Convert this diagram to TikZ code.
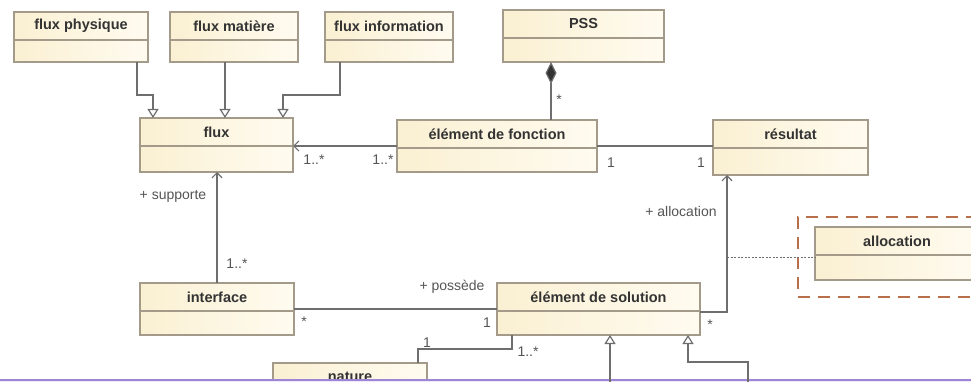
\documentclass[tikz,border=0pt]{standalone}
\usepackage{fontspec}
\setmainfont{Liberation Sans}
\usetikzlibrary{arrows.meta,calc}
\definecolor{boxL}{HTML}{FAF0D2}
\definecolor{boxR}{HTML}{FFFBF0}
\definecolor{boxB}{HTML}{A39A8A}
\definecolor{lineC}{HTML}{6E6E6E}
\definecolor{dashC}{HTML}{B8704C}
\definecolor{txtC}{HTML}{333333}
\definecolor{lblC}{HTML}{555555}
\definecolor{purp}{HTML}{9E86D6}
\definecolor{lav}{HTML}{EEE8F8}
\tikzset{
  classbox/.style={draw=boxB, line width=1.2pt, left color=boxL, right color=boxR, inner sep=0pt, outer sep=0pt},
  titletext/.style={font=\bfseries\fontsize{14.5}{16}\selectfont, text=txtC, inner sep=0pt},
  lbl/.style={font=\fontsize{14}{16}\selectfont, text=lblC, inner sep=1pt},
  gen/.style={draw=lineC, line width=1.2pt, -{Triangle[open, length=9, width=11, fill=white]}},
  nav/.style={draw=lineC, line width=1.2pt, -{Straight Barb[length=5, width=10]}},
  assoc/.style={draw=lineC, line width=1.2pt},
  assocdash/.style={draw=lineC, line width=0.8pt, dash pattern=on 2pt off 1.5pt},
  dashbox/.style={draw=dashC, line width=2.6pt, dash pattern=on 12pt off 8pt, inner sep=0pt, outer sep=0pt},
}
\newcommand\umlclass[6]{%
  \node[classbox, minimum width=#4-#2, minimum height=#5-#3, anchor=north west] (#1) at (#2,#3) {};
  \draw[boxB, line width=1.2pt] ([yshift=-28]#1.north west) -- ([yshift=-28]#1.north east);
  \node[titletext] (#1-t) at ([yshift=-14]#1.north) {#6};
}
\begin{document}
\begin{tikzpicture}[x=1pt,y=-1pt]
\clip (0,0) rectangle (971,382);
\fill[white] (0,0) rectangle (971,382);

\umlclass{fp}{14}{12}{148}{62}{flux physique}
\umlclass{fm}{170}{12}{298}{62}{flux matière}
\umlclass{fi}{325}{12}{453}{62}{flux information}
\umlclass{pss}{503}{10}{664}{62}{PSS}
\umlclass{flux}{140}{118}{293}{172}{flux}
\umlclass{ef}{397}{120}{597}{172}{élément de fonction}
\umlclass{res}{713}{120}{868}{175}{résultat}
\umlclass{intf}{140}{283}{294}{335}{interface}
\umlclass{es}{497}{283}{700}{335}{élément de solution}
\umlclass{alloc}{815}{227}{979}{280}{allocation}
\umlclass{nat}{273}{363}{427}{420}{nature}

\node[dashbox, anchor=north west, minimum width=190, minimum height=80] (grp) at (798,217) {};

\fill[lav] (0,380) rectangle (971,382);
\draw[purp, line width=2pt] (0,379.5) -- (971,379.5);

% generalizations into flux
\coordinate (fpx) at ([xshift=56]fp.south);
\draw[gen] (fpx) -- ++(0,33) -| ([xshift=-63.5]flux.north);
\coordinate (fmx) at ([xshift=8.5]flux.north);
\draw[gen] (fmx |- fm.south) -- (fmx);
\draw[gen] ([xshift=-49]fi.south) -- ++(0,33) -| ([xshift=66.5]flux.north);

% element de fonction -> flux
\draw[nav] (ef.west) -- (ef.west -| flux.east);
% composition PSS
\coordinate (pc) at ([xshift=54]ef.north);
\draw[assoc, {Diamond[length=22, width=11, fill=txtC]}-] (pc |- pss.south) -- (pc);
% element de fonction -- resultat
\draw[assoc] (ef.east) -- (ef.east -| res.west);
% interface -> flux
\draw[nav] (intf.north) -- (intf.north |- flux.south);
% interface -- element de solution
\draw[assoc] (intf.east) -- (es.west);
% element de solution -> resultat
\coordinate (rx) at ([xshift=-63.5]res.south);
\draw[nav] ([yshift=-3]es.east) -| (rx);
\coordinate (ac) at ($(rx)+(0,82)$);
\draw[assocdash] (ac) -- (ac -| alloc.west);
% element de solution -- nature
\draw[assoc] ([xshift=-86.5]es.south) -- ++(0,14) -| ([xshift=68]nat.north);
% generalizations into element de solution
\coordinate (bot) at (0,386);
\coordinate (g1) at ([xshift=11.5]es.south);
\draw[gen] (g1 |- bot) -- (g1);
\coordinate (g2) at ([xshift=89.5]es.south);
\coordinate (g2b) at (748,386);
\draw[gen] (g2b) |- ([yshift=-27]g2) -- (g2);

% labels
\node[lbl] (l1) at (314,160) {1..*};
\node[lbl] (l2) at (383,160) {1..*};
\node[lbl] (l3) at (559,100) {*};
\node[lbl] (l4) at (611,163) {1};
\node[lbl] (l5) at (701,163) {1};
\node[lbl] (l6) at (173,196) {+ supporte};
\node[lbl] (l7) at (237,264) {1..*};
\node[lbl] (l8) at (304,322) {*};
\node[lbl] (l9) at (452,287) {+ possède};
\node[lbl] (l10) at (487,323) {1};
\node[lbl] (l11) at (681,211) {+ allocation};
\node[lbl] (l12) at (710,325) {*};
\node[lbl] (l13) at (427,343) {1};
\node[lbl] (l14) at (528,352) {1..*};
\end{tikzpicture}
\end{document}
